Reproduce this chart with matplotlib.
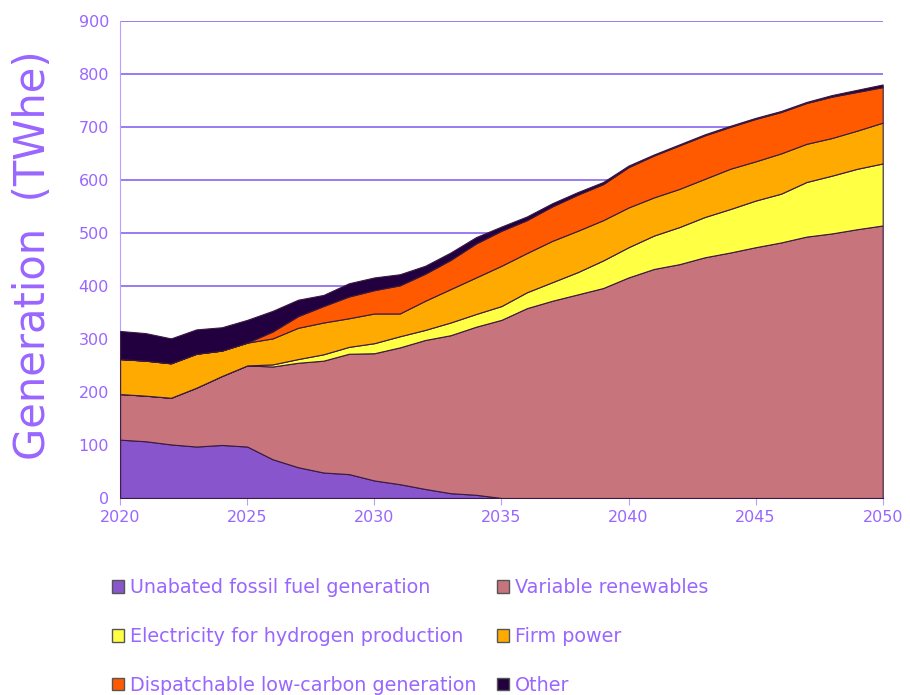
import matplotlib.pyplot as plt
from matplotlib.patches import Patch
import numpy as np

years = np.arange(2020, 2051)

fossil = [110, 107, 101, 97, 100, 97, 73, 58, 48, 45, 33, 26, 17, 9, 6,
          0, 0, 0, 0, 0, 0, 0, 0, 0, 0, 0, 0, 0, 0, 0, 0]
renewables = [86, 86, 88, 111, 130, 153, 175, 197, 211, 227, 240, 258, 281, 298, 317,
              336, 358, 372, 384, 396, 416, 432, 441, 454, 463, 473, 482, 493, 499, 507, 514]
hydrogen = [0, 0, 0, 0, 0, 0, 4, 7, 12, 13, 19, 21, 19, 24, 24,
            26, 30, 35, 42, 52, 57, 63, 70, 76, 82, 88, 92, 103, 109, 114, 117]
firm = [66, 66, 65, 64, 48, 43, 49, 59, 60, 54, 56, 43, 55, 63, 69,
        76, 74, 78, 78, 76, 75, 72, 72, 72, 76, 74, 76, 72, 71, 72, 77]
dispatchable = [0, 0, 0, 0, 0, 0, 13, 22, 31, 41, 44, 53, 51, 55, 64,
                66, 62, 65, 68, 68, 76, 79, 82, 82, 79, 80, 78, 77, 78, 73, 67]
other = [53, 52, 47, 46, 44, 43, 39, 31, 21, 25, 24, 21, 15, 14, 12,
         8, 7, 6, 5, 4, 3, 2, 2, 2, 2, 2, 2, 2, 3, 4, 5]

labels = ['Unabated fossil fuel generation', 'Variable renewables',
          'Electricity for hydrogen production', 'Firm power',
          'Dispatchable low-carbon generation', 'Other']
colors = ['#8855cc', '#c8747c', '#ffff44', '#ffaa00', '#ff5a00', '#220040']

purple = '#9966ff'
plt.rcParams['font.family'] = ['DejaVu Sans']

fig = plt.figure(figsize=(9.1, 6.95), dpi=100)
ax = fig.add_axes([0.132, 0.2835, 0.838, 0.6865])

ax.stackplot(years, fossil, renewables, hydrogen, firm, dispatchable, other,
             colors=colors, edgecolor='#3a1a40', linewidth=0.8, zorder=3)

ax.set_xlim(2020, 2050)
ax.set_ylim(0, 900)
ax.set_xticks(range(2020, 2051, 5))
ax.set_yticks(range(0, 901, 100))
ax.yaxis.grid(True, color='#8866ee', linewidth=1.2, zorder=0)
ax.set_axisbelow(True)
for s in ['top', 'right']:
    ax.spines[s].set_visible(False)
ax.spines['left'].set_color('#b8a0ff')
ax.spines['bottom'].set_color('#b8a0ff')
ax.tick_params(axis='both', colors='#b8a0ff', labelcolor=purple, labelsize=11.5, length=5)
ax.tick_params(axis='y', length=0, pad=8)

fig.text(0.036, 0.633, 'Generation  (TWhe)', rotation=90, fontsize=30,
         color=purple, ha='center', va='center')

handles = [Patch(facecolor=c, edgecolor='#555555', linewidth=1) for c in colors]
legend_kw = dict(loc='upper left', frameon=False, fontsize=13.8, labelcolor=purple,
                 handlelength=0.65, handleheight=0.65, handletextpad=0.3,
                 labelspacing=1.55, borderaxespad=0, borderpad=0)
fig.legend([handles[i] for i in (0, 2, 4)], [labels[i] for i in (0, 2, 4)],
           bbox_to_anchor=(0.123, 0.168), **legend_kw)
fig.legend([handles[i] for i in (1, 3, 5)], [labels[i] for i in (1, 3, 5)],
           bbox_to_anchor=(0.546, 0.168), **legend_kw)

plt.savefig('out.png', dpi=100)
